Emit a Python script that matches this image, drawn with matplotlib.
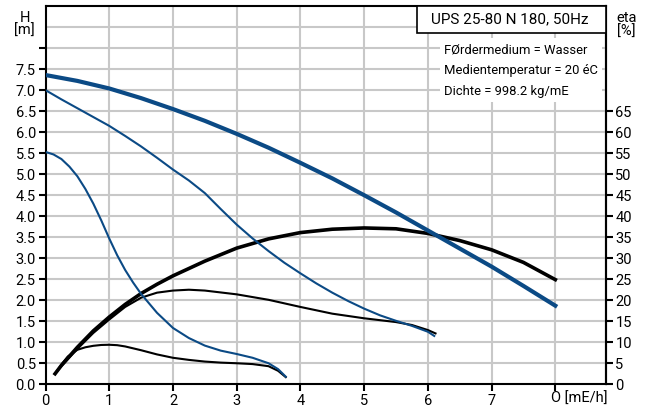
import numpy as np
import matplotlib
matplotlib.use("Agg")
import matplotlib.pyplot as plt
from matplotlib.patches import Rectangle

plt.rcParams['font.family'] = ['Roboto', 'DejaVu Sans']
plt.rcParams['font.size'] = 10.5

# Förderhöhe H [m] über Q [m3/h], drei Drehzahlstufen
q_h3 = [0, 0.5, 1, 1.5, 2, 2.5, 3, 3.5, 4, 4.5, 5, 5.5, 6, 6.5, 7, 7.5, 8]
h_h3 = [7.36, 7.22, 7.04, 6.81, 6.55, 6.27, 5.96, 5.63, 5.27, 4.90, 4.50, 4.09, 3.66, 3.23, 2.80, 2.34, 1.87]

q_h2 = [0, 0.25, 0.5, 0.75, 1, 1.25, 1.5, 1.75, 2, 2.25, 2.5, 2.75, 3, 3.25, 3.5,
        3.75, 4, 4.25, 4.5, 4.75, 5, 5.25, 5.5, 5.75, 6, 6.1]
h_h2 = [7.0, 6.78, 6.57, 6.36, 6.15, 5.91, 5.66, 5.39, 5.11, 4.85, 4.55, 4.17, 3.80, 3.47, 3.17,
        2.89, 2.64, 2.40, 2.18, 1.98, 1.80, 1.64, 1.51, 1.39, 1.25, 1.15]

q_h1 = [0, 0.125, 0.25, 0.375, 0.5, 0.625, 0.75, 0.875, 1, 1.125, 1.25, 1.375, 1.5, 1.75,
        2, 2.25, 2.5, 2.75, 3, 3.25, 3.5, 3.65, 3.77]
h_h1 = [5.53, 5.47, 5.36, 5.18, 4.95, 4.65, 4.30, 3.90, 3.47, 3.07, 2.72, 2.42, 2.15, 1.70,
        1.34, 1.10, 0.92, 0.80, 0.72, 0.63, 0.50, 0.36, 0.18]

# Wirkungsgrad eta [%]
q_e3 = [0.15, 0.25, 0.5, 0.75, 1, 1.25, 1.5, 1.75, 2, 2.5, 3, 3.5, 4, 4.5, 5, 5.5, 6, 6.5, 7, 7.5, 8]
e_e3 = [2.5, 4.5, 8.8, 12.7, 16.0, 19.0, 21.6, 23.8, 25.8, 29.3, 32.4, 34.6, 36.1, 36.9, 37.2,
        37.0, 35.9, 34.2, 32.0, 29.0, 24.9]

q_e2 = [0.15, 0.25, 0.5, 0.75, 1, 1.25, 1.5, 1.75, 2, 2.25, 2.5, 3, 3.5, 4, 4.5, 5, 5.5, 5.75, 6, 6.12]
e_e2 = [2.5, 4.3, 8.4, 12.2, 15.4, 18.4, 20.6, 21.8, 22.3, 22.5, 22.3, 21.4, 20.1, 18.4, 16.8,
        15.7, 14.8, 14.1, 12.9, 12.1]

q_e1 = [0.15, 0.25, 0.35, 0.5, 0.625, 0.75, 0.875, 1, 1.125, 1.25, 1.5, 1.75, 2, 2.25, 2.5,
        2.75, 3, 3.25, 3.5, 3.65, 3.77]
e_e1 = [2.5, 4.7, 6.6, 8.2, 8.8, 9.15, 9.35, 9.4, 9.3, 9.0, 8.1, 7.1, 6.3, 5.8, 5.4,
        5.15, 5.0, 4.8, 4.3, 3.2, 1.7]

x_ticks = [0, 1, 2, 3, 4, 5, 6, 7, 8]
h_ticks = np.arange(0, 8.51, 0.5)
eta_ticks = np.arange(0, 66, 5)
x_max, h_max = 8.79, 9.0

title = "UPS 25-80 N 180, 50Hz"
info = ["FØrdermedium = Wasser", "Medientemperatur = 20 éC", "Dichte = 998.2 kg/mE"]

blue = '#0b4a85'
grid_c = '#c8c8c8'

fig = plt.figure(figsize=(6.5, 4.08), dpi=100)
ax = fig.add_axes([0.07, 0.0582, 0.8618, 0.9268])

# Gitter als normale Linien unter den Kurven
for v in h_ticks[1:]:
    ax.plot([0, x_max], [v, v], color=grid_c, lw=1.5, zorder=1.5, solid_capstyle='butt')
for v in x_ticks[1:]:
    ax.plot([v, v], [0, h_max], color=grid_c, lw=1.5, zorder=1.5, solid_capstyle='butt')

# eta in % auf der gleichen Achse (1 m entspricht 10 %)
ax.plot(q_e3, np.array(e_e3) / 10, color='black', lw=2.6, zorder=2)
ax.plot(q_e2, np.array(e_e2) / 10, color='black', lw=1.5, zorder=2)
ax.plot(q_e1, np.array(e_e1) / 10, color='black', lw=1.5, zorder=2)

ax.plot(q_h3, h_h3, color=blue, lw=3.0, zorder=3)
ax.plot(q_h2, h_h2, color=blue, lw=1.5, zorder=3)
ax.plot(q_h1, h_h1, color=blue, lw=1.5, zorder=3)

ax.set_xlim(0, x_max)
ax.set_ylim(0, h_max)

ax.set_xticks(x_ticks)
ax.set_xticklabels([str(v) for v in x_ticks[:-1]] + [''])
ax.set_yticks(h_ticks)
ax.set_yticklabels(['%.1f' % v if v < 7.9 else '' for v in h_ticks])
for v, t in zip(h_ticks, ax.yaxis.get_major_ticks()):
    if v > 8.2:
        t.tick1line.set_visible(False)

sec = ax.secondary_yaxis('right', functions=(lambda h: h * 10, lambda e: e / 10))
sec.set_yticks(eta_ticks)
sec.set_yticklabels(['%d' % v for v in eta_ticks])

for a in (ax, sec):
    a.tick_params(direction='out', length=5, width=1.5, pad=2, labelsize=10.5)
    for s in a.spines.values():
        s.set_linewidth(1.5)

ax.text(7.93, -0.35, "O [mE/h]", ha='left', va='center', fontsize=10.5,
        transform=ax.transData, clip_on=False)
ax.text(-0.037, 0.952, "H\n[m]", transform=ax.transAxes, ha='center', va='center',
        fontsize=10.5, linespacing=0.95)
ax.text(1.02, 0.95, "eta\n[%]", transform=ax.transAxes, ha='left', va='center',
        fontsize=10.5, linespacing=0.95)

ax.add_patch(Rectangle((0.704, 0.746), 0.289, 0.17, transform=ax.transAxes,
                       facecolor='white', edgecolor='none', zorder=5))
for i, line in enumerate(info):
    ax.text(0.711, 0.884 - i * 0.0555, line, transform=ax.transAxes,
            ha='left', va='center', fontsize=9.4, zorder=6)

ax.add_patch(Rectangle((0.663, 0.929), 0.337, 0.071, transform=ax.transAxes,
                       facecolor='white', edgecolor='black', lw=1.2, zorder=7,
                       clip_on=False))
ax.text(0.829, 0.964, title, transform=ax.transAxes, ha='center', va='center',
        fontsize=11, zorder=8)

fig.savefig('out.png', dpi=100)
